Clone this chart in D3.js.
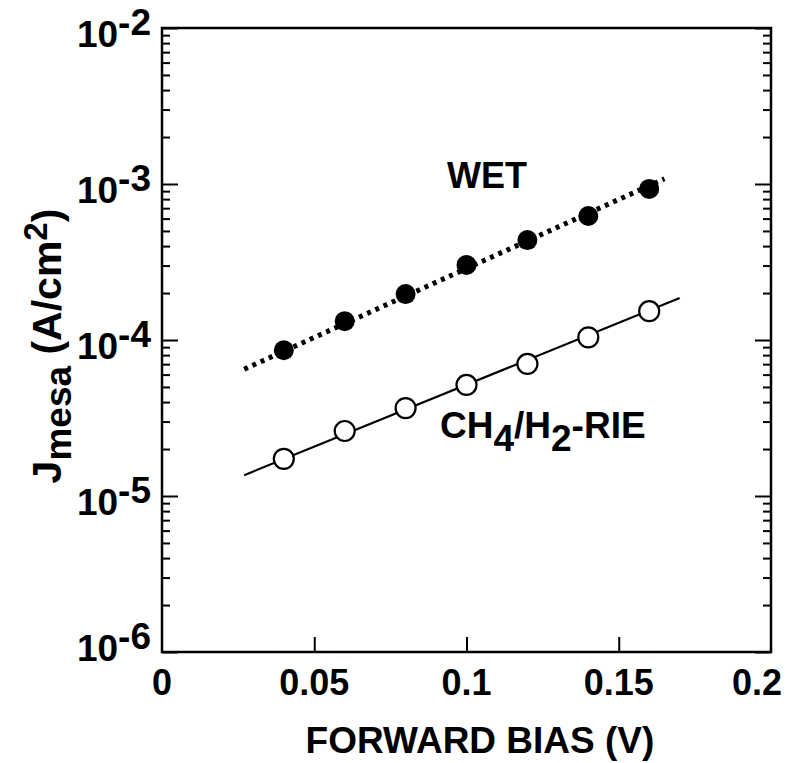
<!DOCTYPE html>
<html>
<head>
<meta charset="utf-8">
<script src="https://cdn.jsdelivr.net/npm/d3@7"></script>
<style>
  body { margin: 0; background: #fff; }
  text { font-family: "Liberation Sans", Arial, sans-serif; font-weight: bold; fill: #000; }
</style>
</head>
<body>
<div id="chart"></div>
<script>
// Data
var biasPoints = [0.04, 0.06, 0.08, 0.10, 0.12, 0.14, 0.16];
var jWet = [8.6e-5, 1.32e-4, 1.97e-4, 3.03e-4, 4.37e-4, 6.24e-4, 9.3e-4];
var jRie = [1.73e-5, 2.61e-5, 3.66e-5, 5.15e-5, 7.02e-5, 1.04e-4, 1.53e-4];

// Fitted lines (end points)
var fitWetBias = [0.027, 0.165];
var fitWetJ = [6.5e-5, 1.08e-3];
var fitRieBias = [0.027, 0.170];
var fitRieJ = [1.36e-5, 1.86e-4];

var xTickValues = [0, 0.05, 0.1, 0.15, 0.2];
var xTickLabels = ['0', '0.05', '0.1', '0.15', '0.2'];
var yTickValues = [1e-2, 1e-3, 1e-4, 1e-5, 1e-6];
var yTickExponents = ['-2', '-3', '-4', '-5', '-6'];

// Size and margins
var margin = {left: 162, right: 22, top: 28, bottom: 111};
var width = 793 - margin.left - margin.right,
    height = 763 - margin.top - margin.bottom;

var svg = d3.select('#chart')
    .append('svg')
        .attr('width', 793)
        .attr('height', 763)
    .append('g')
        .attr('transform', 'translate(' + margin.left + ', ' + margin.top + ')');

var x = d3.scaleLinear().domain([0, 0.2]).range([0, width]);
var y = d3.scaleLog().domain([1e-6, 1e-2]).range([height, 0]);

// minor tick values for the log axis (2..9 in each decade)
var minorTicks = [];
[1e-6, 1e-5, 1e-4, 1e-3].forEach(function(base){
    for (var k = 2; k <= 9; k++) minorTicks.push(base * k);
});

function styleAxis(g){
    g.select('.domain').remove();
    g.selectAll('line').attr('stroke', '#000').attr('stroke-width', 2);
    g.selectAll('text').remove();
}

// Left axis ticks (pointing inward)
svg.append('g').call(d3.axisLeft(y).tickValues(yTickValues).tickSize(-16)).call(styleAxis);
svg.append('g').call(d3.axisLeft(y).tickValues(minorTicks).tickSize(-8)).call(styleAxis);

// Right axis ticks
svg.append('g').attr('transform', 'translate(' + width + ', 0)')
    .call(d3.axisRight(y).tickValues(yTickValues).tickSize(-16)).call(styleAxis);
svg.append('g').attr('transform', 'translate(' + width + ', 0)')
    .call(d3.axisRight(y).tickValues(minorTicks).tickSize(-8)).call(styleAxis);

// Bottom axis ticks
svg.append('g').attr('transform', 'translate(0, ' + height + ')')
    .call(d3.axisBottom(x).tickValues([0.05, 0.1, 0.15]).tickSize(-15)).call(styleAxis);

// Frame
svg.append('rect')
    .attr('x', 0).attr('y', 0)
    .attr('width', width).attr('height', height)
    .attr('fill', 'none')
    .attr('stroke', '#000')
    .attr('stroke-width', 2.5);

// X tick labels (the last one is pulled in so it stays on the page)
svg.selectAll('.xlab')
    .data(xTickValues)
    .enter().append('text')
        .attr('class', 'xlab')
        .attr('x', function(d, i){ return i === xTickValues.length - 1 ? x(d) + 11 : x(d); })
        .attr('y', height + 43)
        .attr('text-anchor', function(d, i){ return i === xTickValues.length - 1 ? 'end' : 'middle'; })
        .style('font-size', '36px')
        .text(function(d, i){ return xTickLabels[i]; });

// Y tick labels: 10 with exponent
var ylab = svg.selectAll('.ylab')
    .data(yTickValues)
    .enter().append('text')
        .attr('class', 'ylab')
        .attr('x', -11)
        .attr('y', function(d, i){ return y(d) + (i === yTickValues.length - 1 ? 9 : 19); })
        .attr('text-anchor', 'end')
        .style('font-size', '37px');
ylab.append('tspan').text('10');
ylab.append('tspan')
    .attr('dy', -12)
    .text(function(d, i){ return yTickExponents[i]; });

// Fitted lines
var line = d3.line()
    .x(function(d){ return x(d[0]); })
    .y(function(d){ return y(d[1]); });

svg.append('path')
    .datum(d3.zip(fitWetBias, fitWetJ))
    .attr('d', line)
    .attr('fill', 'none')
    .attr('stroke', '#000')
    .attr('stroke-width', 5)
    .attr('stroke-dasharray', '4,5');

svg.append('path')
    .datum(d3.zip(fitRieBias, fitRieJ))
    .attr('d', line)
    .attr('fill', 'none')
    .attr('stroke', '#000')
    .attr('stroke-width', 2.2);

// WET points (filled)
svg.selectAll('.wet')
    .data(d3.zip(biasPoints, jWet))
    .enter().append('circle')
        .attr('class', 'wet')
        .attr('cx', function(d){ return x(d[0]); })
        .attr('cy', function(d){ return y(d[1]); })
        .attr('r', 10)
        .attr('fill', '#000');

// RIE points (open)
svg.selectAll('.rie')
    .data(d3.zip(biasPoints, jRie))
    .enter().append('circle')
        .attr('class', 'rie')
        .attr('cx', function(d){ return x(d[0]); })
        .attr('cy', function(d){ return y(d[1]); })
        .attr('r', 10)
        .attr('fill', '#fff')
        .attr('stroke', '#000')
        .attr('stroke-width', 2.2);

// Series labels
svg.append('text')
    .attr('x', 447 - margin.left)
    .attr('y', 188 - margin.top)
    .style('font-size', '36px')
    .text('WET');

var rieLabel = svg.append('text')
    .attr('x', 440 - margin.left)
    .attr('y', 438 - margin.top)
    .style('font-size', '37px');
rieLabel.append('tspan').text('CH');
rieLabel.append('tspan').attr('dy', 13).text('4');
rieLabel.append('tspan').attr('dy', -13).text('/H');
rieLabel.append('tspan').attr('dy', 13).text('2');
rieLabel.append('tspan').attr('dy', -13).text('-RIE');

// X axis title
svg.append('text')
    .attr('x', 480 - margin.left)
    .attr('y', 753 - margin.top)
    .attr('text-anchor', 'middle')
    .style('font-size', '37px')
    .text('FORWARD BIAS (V)');

// Y axis title
var yTitle = svg.append('text')
    .attr('transform', 'translate(' + (61 - margin.left) + ', ' + (346 - margin.top) + ') rotate(-90)')
    .attr('text-anchor', 'middle')
    .style('font-size', '41px');
yTitle.append('tspan').text('J');
yTitle.append('tspan').attr('dy', 10).style('font-size', '37px').text('mesa');
yTitle.append('tspan').attr('dy', -10).text(' (A/cm');
yTitle.append('tspan').attr('dy', -14).style('font-size', '33px').text('2');
yTitle.append('tspan').attr('dy', 14).text(')');
</script>
</body>
</html>
